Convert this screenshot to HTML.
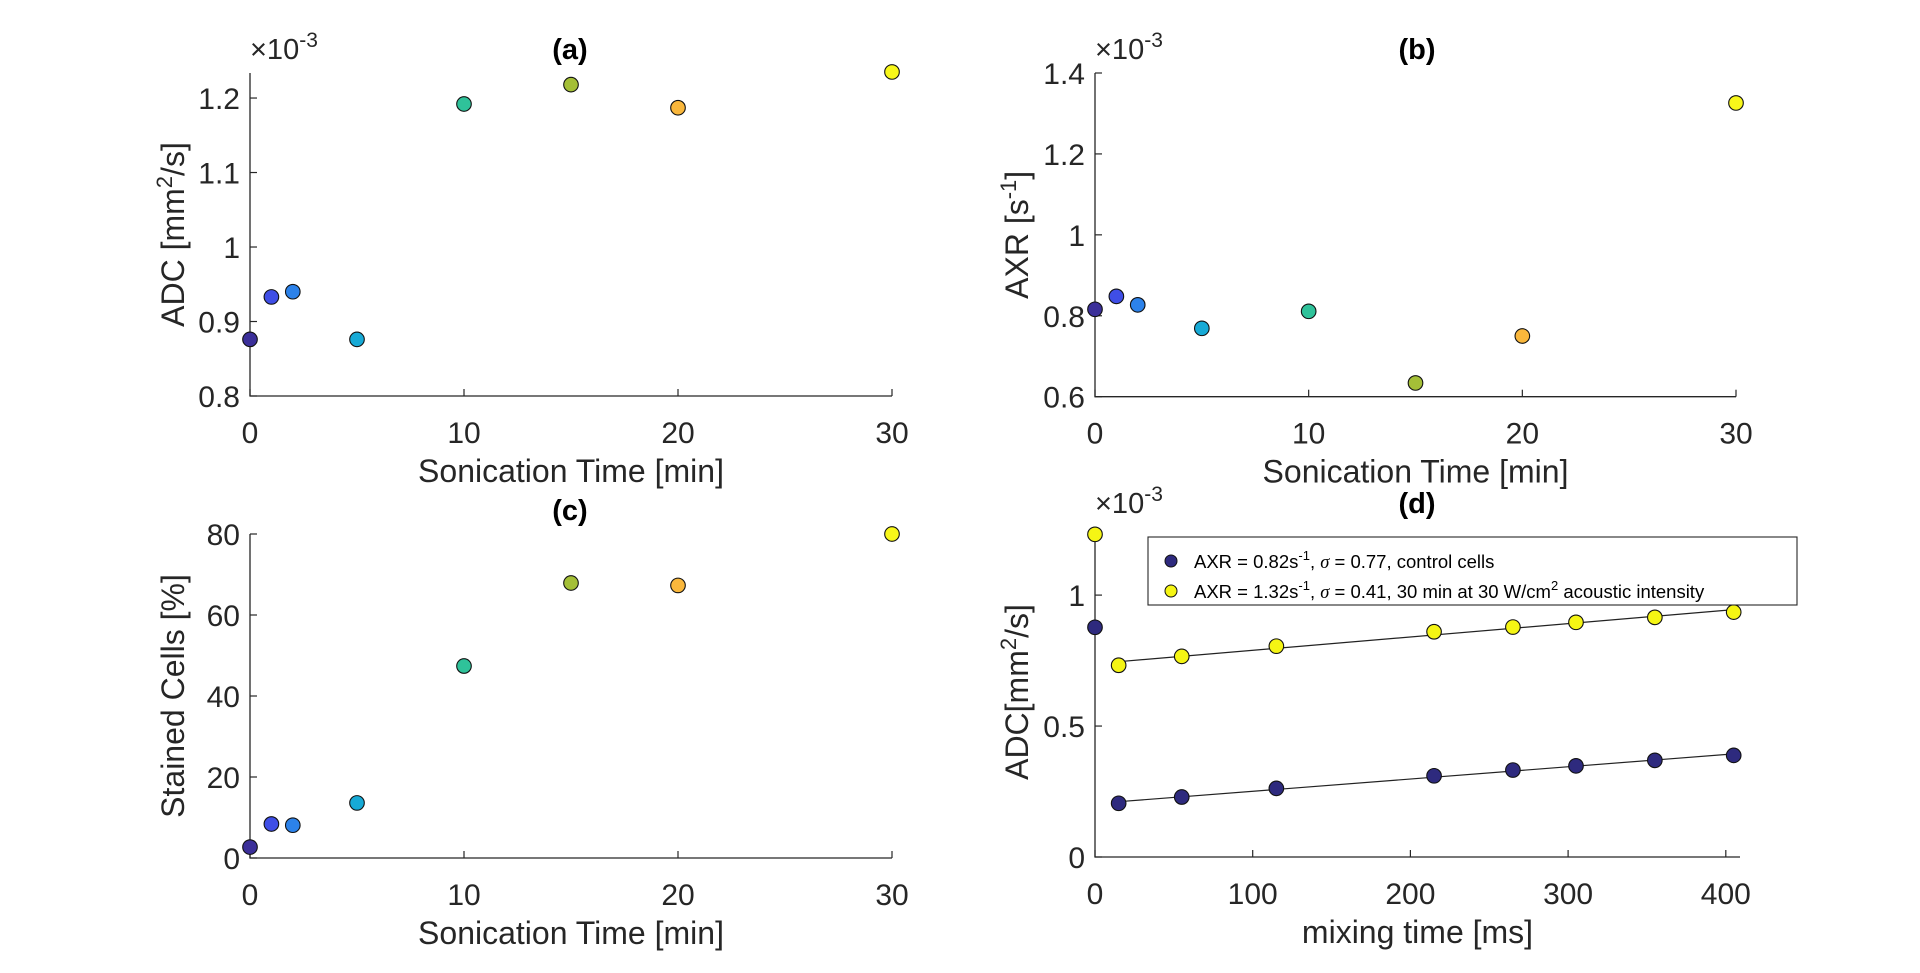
<!DOCTYPE html>
<html><head><meta charset="utf-8">
<style>
html,body{margin:0;padding:0;background:#fff;}
svg{display:block;font-family:"Liberation Sans",Arial,sans-serif;}
</style></head>
<body>
<svg id="fig" width="1920" height="973" viewBox="0 0 1920 973"></svg>
<script>
const sonicTimes = [0, 1, 2, 5, 10, 15, 20, 30];
const pointColors = ["#3b2f99", "#3f4ee6", "#2c82ea", "#17aad6", "#2fc29a", "#a4bf37", "#f9b73c", "#f8f71a"];
const adcValues = [0.876, 0.933, 0.940, 0.876, 1.192, 1.218, 1.187, 1.235];
const axrValues = [0.816, 0.848, 0.827, 0.769, 0.811, 0.634, 0.750, 1.326];
const stainedValues = [2.7, 8.4, 8.1, 13.6, 47.4, 67.9, 67.3, 80];
const sonicTicks = [0, 10, 20, 30];
const adcTicks = [0.8, 0.9, 1.0, 1.1, 1.2];
const adcTickLabels = ["0.8", "0.9", "1", "1.1", "1.2"];
const axrTicks = [0.6, 0.8, 1.0, 1.2, 1.4];
const axrTickLabels = ["0.6", "0.8", "1", "1.2", "1.4"];
const stainedTicks = [0, 20, 40, 60, 80];
const mixTimes = [15, 55, 115, 215, 265, 305, 355, 405];
const controlAdc = [0.205, 0.229, 0.262, 0.310, 0.332, 0.348, 0.369, 0.388];
const sonicatedAdc = [0.732, 0.766, 0.805, 0.860, 0.878, 0.896, 0.915, 0.935];
const controlAdcAtZero = 0.877;
const sonicatedAdcAtZero = 1.232;
const mixTicks = [0, 100, 200, 300, 400];
const dTicks = [0, 0.5, 1];
const dTickLabels = ["0", "0.5", "1"];

const NS = "http://www.w3.org/2000/svg";
const svg = document.getElementById("fig");
const AX = "#262626";
function mk(tag, attrs, parent, text) {
  const e = document.createElementNS(NS, tag);
  for (const k in attrs) e.setAttribute(k, attrs[k]);
  if (text !== undefined) e.textContent = text;
  (parent || svg).appendChild(e);
  return e;
}
function scale(d0, d1, r0, r1) { return v => r0 + (v - d0) / (d1 - d0) * (r1 - r0); }

function panel(cfg) {
  const g = mk("g", {});
  
  
  const sx = scale(cfg.xlim[0], cfg.xlim[1], cfg.L, cfg.R);
  const sy = scale(cfg.ylim[0], cfg.ylim[1], cfg.B, cfg.T);
  const ax = mk("path", {d: `M${cfg.L},${cfg.T} L${cfg.L},${cfg.B} L${cfg.R},${cfg.B}`, stroke: AX, "stroke-width": 1.3, fill: "none"}, g);
  
  
  cfg.xticks.forEach((t, i) => {
    const x = sx(t);
    mk("line", {x1: x, x2: x, y1: cfg.B, y2: cfg.B - 7, stroke: AX, "stroke-width": 1.2}, g);
    const lb = mk("text", {x: x, y: cfg.B + 47, "text-anchor": "middle", "font-size": 30, fill: AX}, g, String(cfg.xtickLabels ? cfg.xtickLabels[i] : t));
    
    
  });
  cfg.yticks.forEach((t, i) => {
    const y = sy(t);
    mk("line", {x1: cfg.L, x2: cfg.L + 7, y1: y, y2: y, stroke: AX, "stroke-width": 1.2}, g);
    const lb = mk("text", {x: cfg.L - 10, y: y + 11, "text-anchor": "end", "font-size": 30, fill: AX}, g, String(cfg.ytickLabels ? cfg.ytickLabels[i] : t));
    
    
  });
  const cx = (cfg.L + cfg.R) / 2;
  const tt = mk("text", {x: cfg.titleX || cx, y: cfg.T - 14, "text-anchor": "middle", "font-size": 29, "font-weight": "bold", fill: "#000"}, g, cfg.title);
  
  
  const xl = mk("text", {x: cx, y: cfg.B + 86, "text-anchor": "middle", "font-size": 32, fill: AX}, g, cfg.xlabel);
  
  
  const yl = mk("text", {x: 0, y: 0, "text-anchor": "middle", "font-size": 32, fill: AX, transform: `translate(${cfg.ylabelX},${(cfg.T + cfg.B) / 2}) rotate(-90)`}, g);
  
  
  cfg.ylabel(yl);
  if (cfg.exp) {
    const ex = mk("text", {x: cfg.L, y: cfg.T - 14, "font-size": 29, fill: AX}, g);
    
    
    mk("tspan", {}, ex, "×10");
    mk("tspan", {dy: -12, "font-size": 21}, ex, "-3");
  }
  return {g, sx, sy};
}
function dot(g, x, y, color, name) {
  const c = mk("circle", {cx: x, cy: y, r: 7.3, fill: color, stroke: "#111", "stroke-width": 1.1}, g);
  
  
}
function supLabel(el, pre, sup, post) {
  mk("tspan", {}, el, pre);
  mk("tspan", {dy: -12, "font-size": 22}, el, sup);
  mk("tspan", {dy: 12}, el, post);
}

// (a)
const pa = panel({name: "panel-a", L: 250, R: 892, T: 73, B: 396, xlim: [0, 30], ylim: [0.8, 1.2336],
  xticks: sonicTicks, yticks: adcTicks, ytickLabels: adcTickLabels, title: "(a)", titleX: 570,
  xlabel: "Sonication Time [min]", ylabelX: 184, exp: true,
  ylabel: el => supLabel(el, "ADC [mm", "2", "/s]")});
sonicTimes.forEach((t, i) => dot(pa.g, pa.sx(t), pa.sy(adcValues[i]), pointColors[i], "adc-point"));

// (b)
const pb = panel({name: "panel-b", L: 1095, R: 1736, T: 73, B: 396.7, xlim: [0, 30], ylim: [0.6, 1.4],
  xticks: sonicTicks, yticks: axrTicks, ytickLabels: axrTickLabels, title: "(b)", titleX: 1417,
  xlabel: "Sonication Time [min]", ylabelX: 1028, exp: true,
  ylabel: el => supLabel(el, "AXR [s", "-1", "]")});
sonicTimes.forEach((t, i) => dot(pb.g, pb.sx(t), pb.sy(axrValues[i]), pointColors[i], "axr-point"));

// (c)
const pc = panel({name: "panel-c", L: 250, R: 892, T: 534, B: 858, xlim: [0, 30], ylim: [0, 80],
  xticks: sonicTicks, yticks: stainedTicks, title: "(c)", titleX: 570,
  xlabel: "Sonication Time [min]", ylabelX: 184, exp: false,
  ylabel: el => { el.textContent = "Stained Cells [%]"; }});
sonicTimes.forEach((t, i) => dot(pc.g, pc.sx(t), pc.sy(stainedValues[i]), pointColors[i], "stained-point"));

// (d)
const pd = panel({name: "panel-d", L: 1095, R: 1740, T: 527, B: 857, xlim: [0, 409], ylim: [0, 1.26],
  xticks: mixTicks, yticks: dTicks, ytickLabels: dTickLabels, title: "(d)", titleX: 1417,
  xlabel: "mixing time [ms]", ylabelX: 1028, exp: true,
  ylabel: el => supLabel(el, "ADC[mm", "2", "/s]")});
function fitLine(xs, ys) {
  const n = xs.length, mx = xs.reduce((a, b) => a + b) / n, my = ys.reduce((a, b) => a + b) / n;
  let sxy = 0, sxx = 0;
  xs.forEach((x, i) => { sxy += (x - mx) * (ys[i] - my); sxx += (x - mx) * (x - mx); });
  const m = sxy / sxx; return x => my + m * (x - mx);
}
[[controlAdc, "#2e2a7e", "control"], [sonicatedAdc, "#f5f514", "sonicated"]].forEach(([ys, col, nm]) => {
  const f = fitLine(mixTimes, ys);
  const x0 = mixTimes[0], x1 = mixTimes[mixTimes.length - 1];
  const ln = mk("line", {x1: pd.sx(x0), y1: pd.sy(f(x0)), x2: pd.sx(x1), y2: pd.sy(f(x1)), stroke: "#222", "stroke-width": 1.2}, pd.g);
  
  
  mixTimes.forEach((t, i) => dot(pd.g, pd.sx(t), pd.sy(ys[i]), col, nm + "-point"));
});
dot(pd.g, pd.sx(0), pd.sy(controlAdcAtZero), "#2e2a7e", "control-zero-point");
dot(pd.g, pd.sx(0), pd.sy(sonicatedAdcAtZero), "#f5f514", "sonicated-zero-point");

// legend
const lg = mk("g", {});


mk("rect", {x: 1148, y: 537, width: 649, height: 68, fill: "#fff", stroke: "#262626", "stroke-width": 1.1}, lg);
function legendEntry(y, col, parts) {
  const c = mk("circle", {cx: 1171, cy: y - 7, r: 6, fill: col, stroke: "#111", "stroke-width": 1}, lg);
  
  
  const t = mk("text", {x: 1194, y: y, "font-size": 18.5, fill: "#000"}, lg);
  
  
  let up = false;
  parts.forEach(p => {
    if (p[0] === "sup") { mk("tspan", {dy: -8, "font-size": 13}, t, p[1]); up = true; }
    else {
      const attrs = {};
      if (up) { attrs.dy = 8; up = false; }
      if (p[0] === "it") { attrs["font-style"] = "italic"; attrs["font-family"] = "Liberation Serif, serif"; }
      mk("tspan", attrs, t, p[1]);
    }
  });
}
legendEntry(568, "#2e2a7e", [["n", "AXR = 0.82s"], ["sup", "-1"], ["n", ", "], ["it", "σ"], ["n", " = 0.77, control cells"]]);
legendEntry(598, "#f5f514", [["n", "AXR = 1.32s"], ["sup", "-1"], ["n", ", "], ["it", "σ"], ["n", " = 0.41, 30 min at 30 W/cm"], ["sup", "2"], ["n", " acoustic intensity"]]);
</script>
</body></html>
